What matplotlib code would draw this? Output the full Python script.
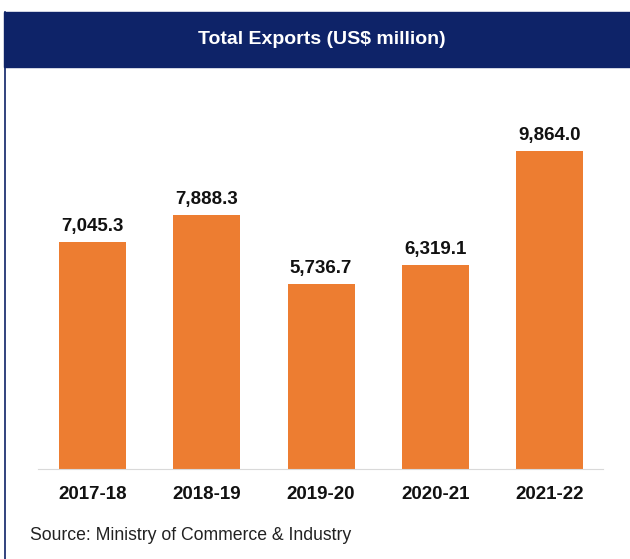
import matplotlib.pyplot as plt
from matplotlib.patches import Rectangle
from matplotlib.lines import Line2D

# Data
years = ['2017-18', '2018-19', '2019-20', '2020-21', '2021-22']
exports = [7045.3, 7888.3, 5736.7, 6319.1, 9864.0]

W, H = 630, 559
fig = plt.figure(figsize=(W / 100, H / 100), dpi=100)
plt.rcParams['font.family'] = ['Liberation Sans', 'DejaVu Sans']

# Header band and left border
fig.patches.append(Rectangle((4 / W, 1 - 67 / H), 1 - 4 / W, 55 / H,
                             transform=fig.transFigure, color='#0E2368', zorder=0))
fig.lines.append(Line2D([4.5 / W, 4.5 / W], [0, 1 - 12 / H],
                        transform=fig.transFigure, color='#0E2368', lw=1.2))
fig.text(322 / W, 1 - 39.5 / H, 'Total Exports (US$ million)', color='white',
         fontsize=14, fontweight='bold', ha='center', va='center')

# Bar chart
ax_top = 100
ax = fig.add_axes([38 / W, 90 / H, 565 / W, (469 - ax_top) / H])
x = range(len(years))
bars = ax.bar(x, exports, width=0.586, color='#ED7D31')
ax.set_xlim(-0.48, 4.47)
ax.set_ylim(0, (469 - ax_top) / 0.03224)

for b, v in zip(bars, exports):
    ax.annotate(f'{v:,.1f}', (b.get_x() + b.get_width() / 2, v),
                xytext=(0, 5), textcoords='offset points',
                ha='center', va='bottom', fontsize=13.5, fontweight='bold', color='#111111')

ax.set_xticks(list(x))
ax.set_xticklabels(years, fontsize=13.5, fontweight='bold', color='#111111')
ax.tick_params(axis='x', length=0, pad=12)
ax.set_yticks([])
for s in ['top', 'right', 'left']:
    ax.spines[s].set_visible(False)
ax.spines['bottom'].set_color('#D9D9D9')

fig.text(30 / W, 1 - 536 / H, 'Source: Ministry of Commerce & Industry',
         fontsize=12.7, color='#222222', ha='left', va='center')

fig.savefig('out.png', dpi=100)
